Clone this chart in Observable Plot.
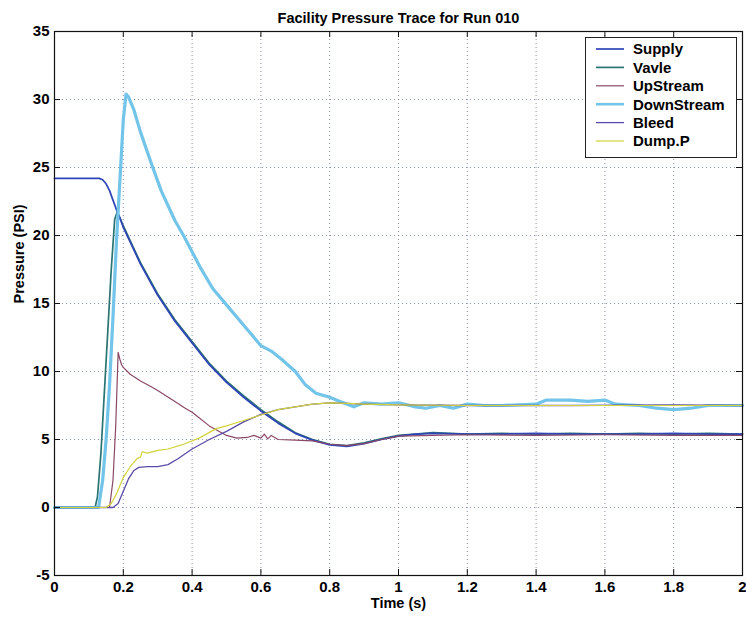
<!DOCTYPE html>
<html>
<head>
<meta charset="utf-8">
<script src="https://cdn.jsdelivr.net/npm/d3@7"></script>
<script src="https://cdn.jsdelivr.net/npm/@observablehq/plot@0.6"></script>
<style>
  body { margin: 0; background: #fff; }
  #wrap { position: relative; width: 746px; height: 619px; }
  #legend { position: absolute; left: 585px; top: 37px; width: 152px; height: 121px;
    border: 1px solid #222; background: #fff; box-sizing: border-box; }
  #legend svg { display: block; }
</style>
</head>
<body>
<div id="wrap"></div>
<script>
// ---- Data ----
const seriesNames = ["Supply", "Vavle", "UpStream", "DownStream", "Bleed", "Dump.P"];

const supplyT = [0, 0.13, 0.14, 0.15, 0.16, 0.17, 0.18, 0.19, 0.2, 0.25, 0.3, 0.35, 0.4, 0.45, 0.5, 0.55, 0.6, 0.65, 0.7, 0.75, 0.8, 0.85, 0.9, 0.95, 1.0, 1.05, 1.1, 1.2, 1.3, 1.4, 1.5, 1.6, 1.7, 1.8, 1.9, 2.0];
const supplyP = [24.2, 24.2, 24.1, 23.8, 23.3, 22.6, 21.9, 21.3, 20.6, 17.9, 15.6, 13.7, 12.1, 10.5, 9.2, 8.1, 7.1, 6.2, 5.45, 4.95, 4.6, 4.5, 4.7, 5.0, 5.25, 5.4, 5.45, 5.4, 5.4, 5.45, 5.4, 5.4, 5.4, 5.45, 5.4, 5.4];

const vavleT = [0, 0.118, 0.125, 0.135, 0.145, 0.155, 0.165, 0.175, 0.182, 0.19, 0.2, 0.25, 0.3, 0.35, 0.4, 0.45, 0.5, 0.55, 0.6, 0.65, 0.7, 0.75, 0.8, 0.85, 0.9, 0.95, 1.0, 1.05, 1.1, 1.2, 1.3, 1.4, 1.5, 1.6, 1.7, 1.8, 1.9, 2.0];
const vavleP = [0, 0, 0.8, 4.0, 8.5, 13.0, 17.5, 21.2, 21.7, 21.3, 20.7, 18.0, 15.7, 13.8, 12.2, 10.6, 9.3, 8.2, 7.2, 6.3, 5.5, 5.0, 4.65, 4.55, 4.75, 5.05, 5.3, 5.4, 5.5, 5.4, 5.45, 5.4, 5.45, 5.4, 5.45, 5.4, 5.45, 5.4];

const upstreamT = [0, 0.16, 0.17, 0.178, 0.185, 0.19, 0.195, 0.2, 0.22, 0.25, 0.28, 0.3, 0.35, 0.38, 0.4, 0.45, 0.5, 0.53, 0.56, 0.58, 0.6, 0.61, 0.62, 0.63, 0.65, 0.7, 0.75, 0.8, 0.85, 0.9, 0.95, 1.0, 1.1, 1.2, 1.4, 1.6, 1.8, 2.0];
const upstreamP = [0, 0, 2.0, 6.0, 11.4, 10.9, 10.5, 10.3, 9.8, 9.3, 8.9, 8.6, 7.8, 7.3, 7.0, 6.0, 5.3, 5.1, 5.15, 5.3, 5.1, 5.4, 5.05, 5.3, 5.0, 4.95, 4.9, 4.65, 4.55, 4.7, 5.0, 5.25, 5.3, 5.35, 5.3, 5.35, 5.3, 5.3];

const downT = [0, 0.128, 0.14, 0.15, 0.16, 0.17, 0.18, 0.19, 0.2, 0.208, 0.215, 0.23, 0.25, 0.28, 0.31, 0.35, 0.375, 0.4, 0.425, 0.46, 0.5, 0.55, 0.6, 0.63, 0.66, 0.7, 0.73, 0.76, 0.8, 0.83, 0.87, 0.9, 0.95, 1.0, 1.05, 1.08, 1.12, 1.16, 1.2, 1.25, 1.3, 1.4, 1.43, 1.5, 1.55, 1.6, 1.63, 1.7, 1.75, 1.8, 1.85, 1.9, 2.0];
const downP = [0, 0, 2.0, 5.0, 9.0, 14.0, 19.5, 24.0, 28.5, 30.4, 30.2, 29.3, 27.6, 25.4, 23.3, 21.1, 20.0, 18.8, 17.6, 16.1, 14.9, 13.4, 11.9, 11.5, 10.9, 10.0, 9.0, 8.4, 8.1, 7.8, 7.4, 7.7, 7.6, 7.7, 7.4, 7.3, 7.5, 7.3, 7.6, 7.5, 7.5, 7.6, 7.9, 7.9, 7.8, 7.9, 7.6, 7.5, 7.3, 7.2, 7.3, 7.5, 7.5];

const bleedT = [0, 0.17, 0.185, 0.2, 0.215, 0.23, 0.245, 0.27, 0.3, 0.33, 0.36, 0.4, 0.45, 0.5, 0.55, 0.6, 0.65, 0.7, 0.75, 0.8, 0.85, 0.9, 1.0, 1.2, 1.5, 1.8, 2.0];
const bleedP = [0, 0, 0.3, 1.2, 2.1, 2.7, 2.95, 3.0, 3.0, 3.15, 3.6, 4.3, 5.0, 5.6, 6.3, 6.85, 7.2, 7.4, 7.6, 7.7, 7.65, 7.6, 7.55, 7.5, 7.5, 7.55, 7.5];

const dumpT = [0, 0.15, 0.165, 0.18, 0.2, 0.22, 0.24, 0.25, 0.255, 0.27, 0.3, 0.33, 0.37, 0.42, 0.47, 0.5, 0.55, 0.6, 0.65, 0.7, 0.75, 0.8, 0.85, 0.9, 1.0, 1.2, 1.5, 1.8, 2.0];
const dumpP = [0, 0, 0.3, 1.0, 2.2, 3.0, 3.6, 3.7, 4.1, 4.0, 4.2, 4.3, 4.6, 5.1, 5.8, 6.0, 6.4, 6.8, 7.2, 7.4, 7.6, 7.7, 7.65, 7.6, 7.55, 7.5, 7.5, 7.5, 7.5];

const xTicks = [0, 0.2, 0.4, 0.6, 0.8, 1, 1.2, 1.4, 1.6, 1.8, 2];
const yTicks = [-5, 0, 5, 10, 15, 20, 25, 30, 35];

const titleText = "Facility Pressure Trace for Run 010";
const xLabel = "Time (s)";
const yLabel = "Pressure (PSI)";

// ---- Styles ----
const seriesColors = ["#2f45b8", "#2a7472", "#8a4866", "#72c4e8", "#5a4ca6", "#d2d23a"];
const seriesWidths = [1.7, 1.7, 1.2, 3.2, 1.3, 1.2];
const drawOrder = [1, 0, 2, 3, 4, 5];
const FONT = "'Liberation Sans', Arial, Helvetica, sans-serif";

const seriesData = [
  [supplyT, supplyP], [vavleT, vavleP], [upstreamT, upstreamP],
  [downT, downP], [bleedT, bleedP], [dumpT, dumpP]
].map(([T, P], i) => T.map((t, j) => ({series: seriesNames[i], t, p: P[j]})));

const W = 746, H = 619, mL = 54, mR = 4, mT = 31, mB = 44;
const fw = W - mL - mR, fh = H - mT - mB, tk = 6;

const gridStyle = {stroke: "#6c7fae", strokeOpacity: 0.85, strokeDasharray: "1,3", strokeWidth: 1};

const chart = Plot.plot({
  width: W, height: H,
  marginLeft: mL, marginRight: mR, marginTop: mT, marginBottom: mB,
  x: {domain: [0, 2]},
  y: {domain: [-5, 35]},
  style: {fontFamily: FONT, fontSize: "15px", fontWeight: "bold", color: "#000", background: "#fff"},
  marks: [
    Plot.ruleX(xTicks.slice(1, -1), {x: d => d, ...gridStyle}),
    Plot.ruleY(yTicks.slice(1, -1), {y: d => d, ...gridStyle}),
    ...drawOrder.map(i => Plot.line(seriesData[i], {x: "t", y: "p", stroke: seriesColors[i], strokeWidth: seriesWidths[i], strokeLinejoin: "round"})),
    Plot.tickX(xTicks, {x: d => d, insetTop: fh - tk, stroke: "#111"}),
    Plot.tickX(xTicks, {x: d => d, insetBottom: fh - tk, stroke: "#111"}),
    Plot.tickY(yTicks, {y: d => d, insetRight: fw - tk, stroke: "#111"}),
    Plot.tickY(yTicks, {y: d => d, insetLeft: fw - tk, stroke: "#111"}),
    Plot.frame({stroke: "#111", strokeWidth: 1.2}),
    Plot.axisX(xTicks, {anchor: "bottom", tickSize: 0, tickPadding: 6, tickFormat: d => String(d), label: null, fontSize: 15, fontWeight: "bold"}),
    Plot.axisY(yTicks, {anchor: "left", tickSize: 0, tickPadding: 5, tickFormat: d => String(d), label: null, fontSize: 15, fontWeight: "bold"}),
    Plot.text([titleText], {text: d => d, frameAnchor: "top", dy: -19, fontSize: 14.5, fontWeight: "bold"}),
    Plot.text([xLabel], {text: d => d, frameAnchor: "bottom", dy: 32, fontSize: 14.5, fontWeight: "bold"}),
    Plot.text([yLabel], {text: d => d, frameAnchor: "left", dx: -35, rotate: -90, fontSize: 14.5, fontWeight: "bold"})
  ]
});

const wrap = document.getElementById("wrap");
wrap.appendChild(chart);

// ---- Legend (MATLAB-style box in the upper right) ----
const legend = document.createElement("div");
legend.id = "legend";
const rowH = 18.4, row0 = 11;
let svg = `<svg width="150" height="119" xmlns="http://www.w3.org/2000/svg" font-family="${FONT.replace(/'/g, "")}" font-weight="bold" font-size="15">`;
seriesNames.forEach((name, i) => {
  const y = row0 + i * rowH;
  svg += `<line x1="10" x2="38" y1="${y}" y2="${y}" stroke="${seriesColors[i]}" stroke-width="${Math.min(seriesWidths[i], 2.6)}"/>`;
  svg += `<text x="47" y="${y}" dy="0.36em" fill="#000">${name}</text>`;
});
svg += `</svg>`;
legend.innerHTML = svg;
wrap.appendChild(legend);
</script>
</body>
</html>
